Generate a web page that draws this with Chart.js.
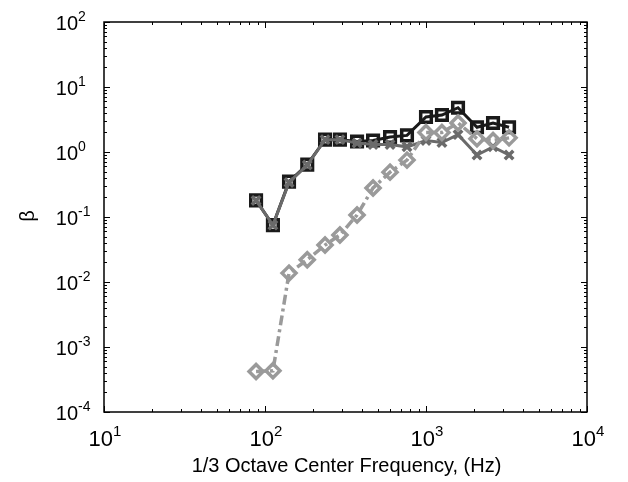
<!DOCTYPE html>
<html>
<head>
<meta charset="utf-8">
<script src="https://cdn.jsdelivr.net/npm/chart.js@4"></script>
<style>
  body { margin: 0; background: #fff; }
  #wrap { width: 628px; height: 482px; }
</style>
</head>
<body>
<div id="wrap"><canvas id="betaChart" width="628" height="482"></canvas></div>
<script>
// 周波数 (Hz) - 図から読み取り
const freqHz = [88, 112, 141, 183, 236, 292, 373, 469, 598, 762, 1000, 1256, 1581, 2074, 2608, 3280];
// β の値 (3系列)
const betaSquare  = [0.18, 0.075, 0.35, 0.64, 1.55, 1.55, 1.45, 1.5, 1.7, 1.8, 3.45, 3.7, 4.8, 2.4, 2.8, 2.4];
const betaCross   = [0.18, 0.075, 0.34, 0.63, 1.55, 1.55, 1.37, 1.3, 1.3, 1.2, 1.5, 1.4, 1.85, 0.9, 1.2, 0.9];
const betaDiamond = [0.00042, 0.00043, 0.0137, 0.022, 0.037, 0.053, 0.107, 0.28, 0.49, 0.75, 2.0, 2.0, 2.8, 1.6, 1.5, 1.65];
// 目盛りの指数
const xTickExp = [1, 2, 3, 4];
const yTickExp = [-4, -3, -2, -1, 0, 1, 2];

const FONT = "'Liberation Sans', Arial, sans-serif";

function toPoints(vals) {
  return freqHz.map((f, i) => ({ x: f, y: vals[i] }));
}

// 10^n を上付きで描く
function drawPow(ctx, exp, x, y, align, size) {
  const base = '10', sup = String(exp);
  const supSize = Math.round(size * 0.7);
  ctx.font = size + 'px ' + FONT;
  const wb = ctx.measureText(base).width;
  ctx.font = supSize + 'px ' + FONT;
  const ws = ctx.measureText(sup).width;
  let left;
  if (align === 'center') left = x - (wb + ws) / 2;
  else left = x - wb; // "10" の右端を x に合わせる
  ctx.textBaseline = 'alphabetic';
  ctx.textAlign = 'left';
  ctx.font = size + 'px ' + FONT;
  ctx.fillText(base, left, y);
  ctx.font = supSize + 'px ' + FONT;
  ctx.fillText(sup, left + wb, y - size * 0.45);
}

// 枠・目盛り・ラベル (MATLAB風)
const axesBox = {
  id: 'axesBox',
  afterDraw(chart) {
    const { ctx, chartArea: a, scales } = chart;
    const sx = scales.x, sy = scales.y;
    ctx.save();
    ctx.strokeStyle = '#000';
    ctx.fillStyle = '#000';
    ctx.lineWidth = 1.5;
    ctx.strokeRect(a.left, a.top, a.right - a.left, a.bottom - a.top);

    ctx.lineWidth = 1;
    ctx.beginPath();
    // x 方向
    for (let e = xTickExp[0]; e <= xTickExp[xTickExp.length - 1]; e++) {
      for (let k = 1; k <= 9; k++) {
        const v = k * Math.pow(10, e);
        if (v > sx.max) break;
        const px = Math.round(sx.getPixelForValue(v)) + 0.5;
        const len = k === 1 ? 6 : 3;
        ctx.moveTo(px, a.bottom); ctx.lineTo(px, a.bottom - len);
        ctx.moveTo(px, a.top); ctx.lineTo(px, a.top + len);
      }
    }
    // y 方向
    for (let e = yTickExp[0]; e <= yTickExp[yTickExp.length - 1]; e++) {
      for (let k = 1; k <= 9; k++) {
        const v = k * Math.pow(10, e);
        if (v > sy.max * 1.0001) break;
        const py = Math.round(sy.getPixelForValue(v)) + 0.5;
        const len = k === 1 ? 6 : 3;
        ctx.moveTo(a.left, py); ctx.lineTo(a.left + len, py);
        ctx.moveTo(a.right, py); ctx.lineTo(a.right - len, py);
      }
    }
    ctx.stroke();

    // 目盛りラベル
    xTickExp.forEach(e => {
      drawPow(ctx, e, sx.getPixelForValue(Math.pow(10, e)) + 1, a.bottom + 34, 'center', 22);
    });
    yTickExp.forEach(e => {
      drawPow(ctx, e, 78, sy.getPixelForValue(Math.pow(10, e)) + 8, 'right', 20);
    });

    // 軸タイトル
    ctx.font = '20px ' + FONT;
    ctx.textAlign = 'center';
    ctx.textBaseline = 'alphabetic';
    ctx.fillText('1/3 Octave Center Frequency, (Hz)', (a.left + a.right) / 2 + 1, 472);
    ctx.save();
    ctx.translate(28, 216);
    ctx.rotate(-Math.PI / 2);
    ctx.textBaseline = 'middle';
    ctx.fillText('β', 0, 0);
    ctx.restore();
    ctx.restore();
  }
};

const ctx = document.getElementById('betaChart').getContext('2d');
new Chart(ctx, {
  type: 'line',
  data: {
    datasets: [
      {
        label: 'diamond',
        data: toPoints(betaDiamond),
        borderColor: '#9a9a9a',
        borderWidth: 3.5,
        borderDash: [10, 4, 3, 4],
        pointStyle: 'rectRot',
        pointRadius: 7,
        pointBorderWidth: 3.5,
        pointBorderColor: '#9a9a9a',
        pointBackgroundColor: 'rgba(255,255,255,0)',
        tension: 0,
        order: 0
      },
      {
        label: 'cross',
        data: toPoints(betaCross),
        borderColor: '#6a6a6a',
        borderWidth: 3,
        pointStyle: 'crossRot',
        pointRadius: 6,
        pointBorderWidth: 3.5,
        pointBorderColor: '#6a6a6a',
        tension: 0,
        order: 1
      },
      {
        label: 'square',
        data: toPoints(betaSquare),
        borderColor: '#1a1a1a',
        borderWidth: 3,
        pointStyle: 'rect',
        pointRadius: 7.5,
        pointBorderWidth: 3.5,
        pointBorderColor: '#1a1a1a',
        pointBackgroundColor: 'rgba(255,255,255,0)',
        tension: 0,
        order: 2
      }
    ]
  },
  options: {
    responsive: false,
    animation: false,
    layout: { padding: { left: 104, right: 41, top: 22, bottom: 70 } },
    plugins: { legend: { display: false }, tooltip: { enabled: false } },
    scales: {
      x: { type: 'logarithmic', min: 10, max: 10000, display: false },
      y: { type: 'logarithmic', min: 0.0001, max: 100, display: false }
    }
  },
  plugins: [axesBox]
});
</script>
</body>
</html>
